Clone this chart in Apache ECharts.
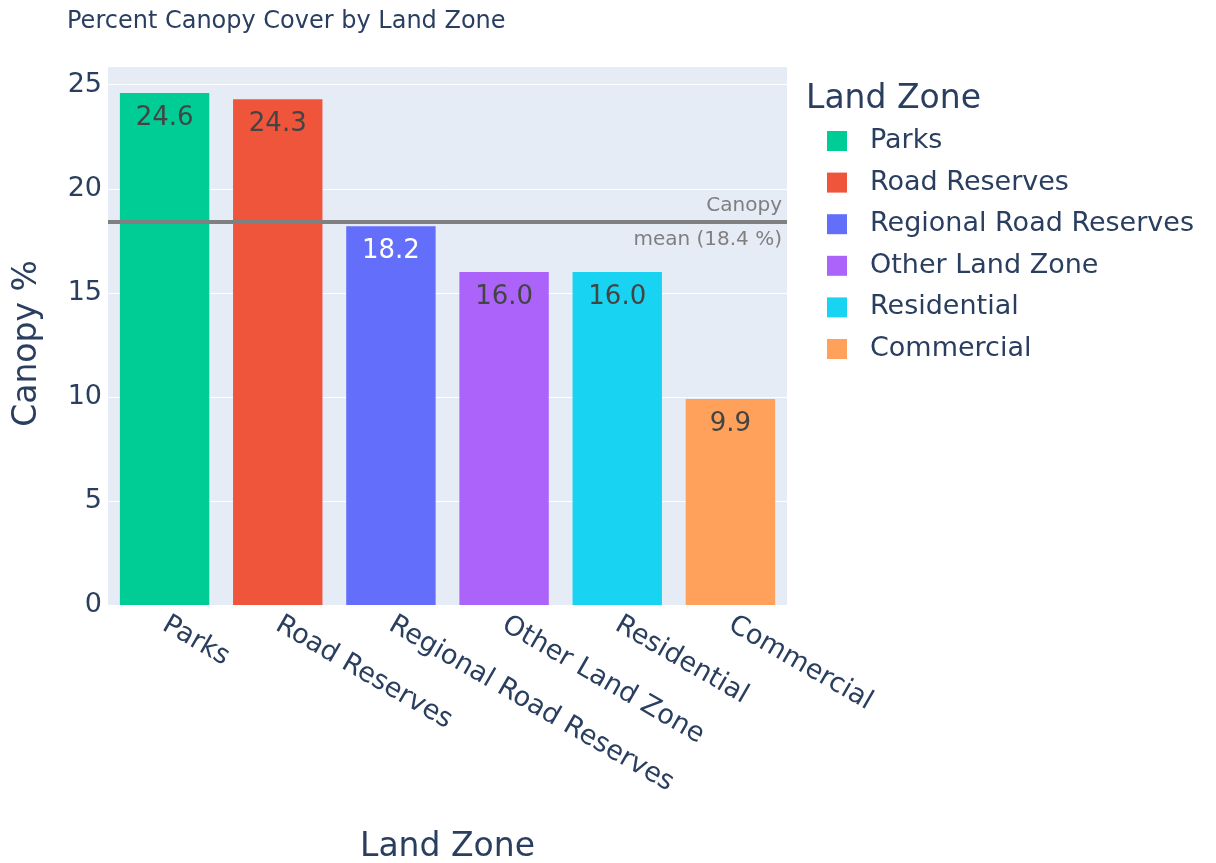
<!DOCTYPE html>
<html>
<head>
<meta charset="utf-8">
<script src="https://cdn.jsdelivr.net/npm/echarts@6/dist/echarts.min.js"></script>
<style>
  html, body { margin: 0; padding: 0; background: #fff; }
  #chart { width: 1216px; height: 863px; }
</style>
</head>
<body>
<div id="chart"></div>
<script>
// Land zones and their percent canopy cover
const zones = ['Parks', 'Road Reserves', 'Regional Road Reserves', 'Other Land Zone', 'Residential', 'Commercial'];
const canopyPct = [24.6, 24.3, 18.2, 16.0, 16.0, 9.9];
const zoneColors = ['#00cc96', '#EF553B', '#636efa', '#ab63fa', '#19d3f3', '#FFA15A'];
const labelColors = ['#444', '#444', '#fff', '#444', '#444', '#444'];
const canopyMean = 18.4;
const yTicks = [0, 5, 10, 15, 20, 25];

const FONT = 'DejaVu Sans';
const INK = '#2a3f5f';

const chart = echarts.init(document.getElementById('chart'));

// one series per zone, stacked so each bar keeps the full category slot
const series = zones.map((z, i) => ({
  name: z,
  type: 'bar',
  stack: 'zones',
  barCategoryGap: '21%',
  itemStyle: { color: zoneColors[i] },
  data: zones.map((_, j) => (j === i ? canopyPct[i] : '-')),
  label: {
    show: true,
    position: 'insideTop',
    distance: 12,
    fontFamily: FONT,
    fontSize: 26,
    color: labelColors[i],
    formatter: p => Number(p.value).toFixed(1)
  }
}));

// mean canopy reference line, caption split above and below it
series[0].markLine = {
  symbol: 'none',
  silent: true,
  lineStyle: { color: '#808080', width: 4, type: 'solid' },
  data: [
    {
      yAxis: canopyMean,
      label: {
        show: true, position: 'insideEndTop', distance: [5, 6],
        formatter: 'Canopy', color: '#7f7f7f', fontFamily: FONT, fontSize: 20
      }
    },
    {
      yAxis: canopyMean,
      label: {
        show: true, position: 'insideEndBottom', distance: [5, 8],
        formatter: 'mean (' + canopyMean.toFixed(1) + ' %)', color: '#7f7f7f', fontFamily: FONT, fontSize: 20
      }
    }
  ]
};

chart.setOption({
  animation: false,
  backgroundColor: '#fff',
  textStyle: { fontFamily: FONT, color: INK },
  title: [
    {
      text: 'Percent Canopy Cover by Land Zone',
      left: 62, top: 5,
      textStyle: { fontFamily: FONT, fontSize: 24, fontWeight: 'normal', color: INK }
    },
    {
      text: 'Land Zone',
      left: 801, top: 78,
      textStyle: { fontFamily: FONT, fontSize: 33, fontWeight: 'normal', color: INK }
    }
  ],
  legend: {
    orient: 'vertical',
    left: 822, top: 121,
    itemWidth: 20, itemHeight: 20,
    itemGap: 11.6,
    icon: 'rect',
    textStyle: { fontFamily: FONT, fontSize: 27, lineHeight: 30, color: INK, padding: [0, 0, 0, 18] },
    data: zones
  },
  grid: {
    left: 108, right: 429, top: 66, bottom: 258,
    containLabel: false, outerBoundsMode: 'none',
    show: true, backgroundColor: '#E5ECF6', borderWidth: 0
  },
  xAxis: {
    type: 'category',
    data: zones,
    name: 'Land Zone',
    nameLocation: 'middle',
    nameGap: 226,
    nameTextStyle: { fontFamily: FONT, fontSize: 33, color: INK },
    axisLine: { show: false },
    axisTick: { show: false },
    axisLabel: { rotate: -30, margin: 18, fontFamily: FONT, fontSize: 27, color: INK }
  },
  yAxis: {
    type: 'value',
    min: 0, max: 25.9, interval: 5,
    name: 'Canopy %',
    nameLocation: 'middle',
    nameGap: 64,
    nameTextStyle: { fontFamily: FONT, fontSize: 33, color: INK, padding: [0, 16, 0, 0] },
    axisLine: { show: false },
    axisTick: { show: false },
    splitLine: { lineStyle: { color: '#fff', width: 1 } },
    axisLabel: {
      margin: 6, fontFamily: FONT, fontSize: 27, color: INK,
      formatter: v => (yTicks.indexOf(v) >= 0 ? String(v) : '')
    }
  },
  series: series
});
</script>
</body>
</html>
